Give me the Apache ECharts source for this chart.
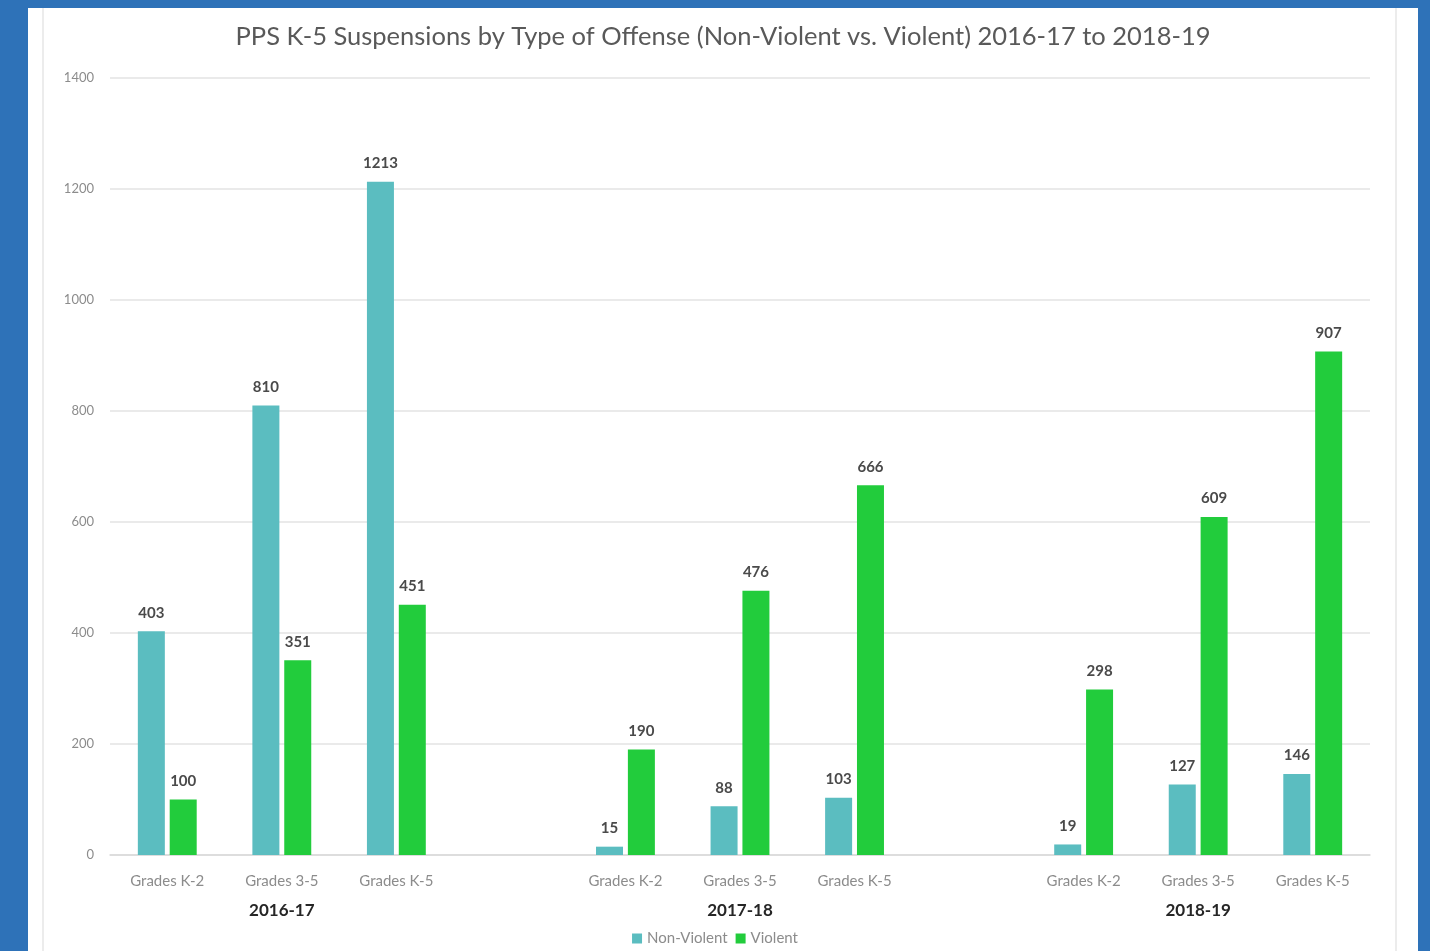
<!DOCTYPE html>
<html>
<head>
<meta charset="utf-8">
<script src="https://cdn.jsdelivr.net/npm/echarts@6/dist/echarts.min.js"></script>
<style>
html,body{margin:0;padding:0;background:#2e72b8;}
#c{width:1430px;height:951px;}
</style>
</head>
<body>
<div id="c"></div>
<script>
const categories = ['Grades K-2','Grades 3-5','Grades K-5','','Grades K-2','Grades 3-5','Grades K-5','','Grades K-2','Grades 3-5','Grades K-5'];
const groupLabels = ['','2016-17','','','','2017-18','','','','2018-19',''];
const nonViolent = [403, 810, 1213, '-', 15, 88, 103, '-', 19, 127, 146];
const violent = [100, 351, 451, '-', 190, 476, 666, '-', 298, 609, 907];
const yTicks = {min: 0, max: 1400, interval: 200};

const chart = echarts.init(document.getElementById('c'));
const font = 'Lato, "Open Sans", sans-serif';
const labelStyle = {show: true, position: 'top', distance: 11, color: '#4a4a4a', fontSize: 15, fontWeight: 'bold', fontFamily: font};
chart.setOption({
  backgroundColor: '#2e72b8',
  animation: false,
  graphic: [
    {type: 'rect', shape: {x: 28, y: 8, width: 1390, height: 943}, style: {fill: '#ffffff'}, z: -10},
    {type: 'line', shape: {x1: 43, y1: 8, x2: 43, y2: 951}, style: {stroke: '#ececec', lineWidth: 2}, z: -9},
    {type: 'line', shape: {x1: 1396, y1: 8, x2: 1396, y2: 951}, style: {stroke: '#ececec', lineWidth: 2}, z: -9}
  ],
  title: {
    text: 'PPS K-5 Suspensions by Type of Offense (Non-Violent vs. Violent) 2016-17 to 2018-19',
    left: 718, top: 19, textAlign: 'center',
    textStyle: {color: '#595959', fontSize: 25.5, fontWeight: 'normal', fontFamily: font}
  },
  legend: {
    bottom: 0, left: 'center',
    itemWidth: 10, itemHeight: 10, itemGap: 8,
    icon: 'rect',
    textStyle: {color: '#8c8c8c', fontSize: 15, fontFamily: font},
    data: ['Non-Violent', 'Violent']
  },
  grid: {left: 110, right: 60, top: 78, bottom: 96, containLabel: false},
  xAxis: [{
    type: 'category', data: categories,
    axisLine: {lineStyle: {color: '#d9d9d9', width: 1.5}},
    axisTick: {show: false},
    axisLabel: {color: '#8c8c8c', fontSize: 15, fontFamily: font, margin: 19, interval: 0}
  }, {
    type: 'category', data: groupLabels, position: 'bottom',
    axisLine: {show: false}, axisTick: {show: false},
    axisLabel: {color: '#262626', fontSize: 17, fontWeight: 'bold', fontFamily: font, margin: 47, interval: 0}
  }],
  yAxis: {
    type: 'value', min: yTicks.min, max: yTicks.max, interval: yTicks.interval,
    axisLine: {show: false}, axisTick: {show: false},
    axisLabel: {color: '#8c8c8c', fontSize: 13, fontFamily: font, margin: 16, formatter: v => String(v)},
    splitLine: {lineStyle: {color: '#e3e3e3', width: 1.5}}
  },
  series: [{
    name: 'Non-Violent', type: 'bar', data: nonViolent, barWidth: 27, barGap: '18%',
    itemStyle: {color: '#5bbdc0'}, label: labelStyle
  }, {
    name: 'Violent', type: 'bar', data: violent, barWidth: 27,
    itemStyle: {color: '#22cc3c'}, label: labelStyle
  }]
});
</script>
</body>
</html>
